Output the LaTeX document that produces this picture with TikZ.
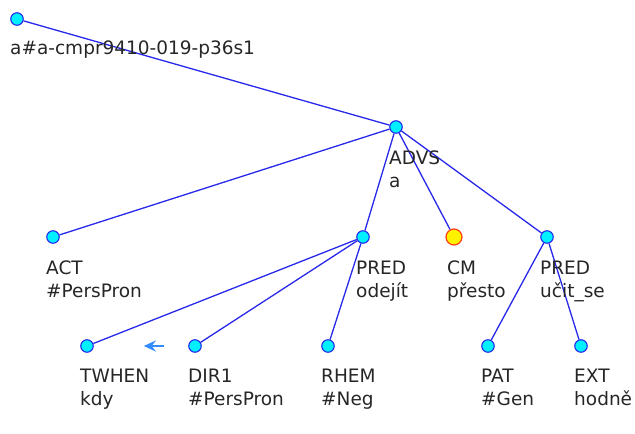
\documentclass[tikz,border=0pt]{standalone}
\usepackage{fontspec}
\setmainfont{DejaVu Sans}
\usetikzlibrary{arrows.meta}
\definecolor{edgeblue}{RGB}{40,40,235}
\definecolor{nodecyan}{RGB}{0,240,255}
\definecolor{corefblue}{RGB}{50,140,255}
\definecolor{cmred}{RGB}{255,60,20}
\begin{document}
\begin{tikzpicture}[x=1pt,y=-1pt,
    tnode/.style={circle,draw=edgeblue,fill=nodecyan,line width=1.1pt,minimum size=12.5pt,inner sep=0pt},
    cmnode/.style={circle,draw=cmred,fill=yellow,line width=1.2pt,minimum size=16pt,inner sep=0pt},
    edge/.style={edgeblue,line width=1.3pt},
    lbl/.style={anchor=base west,align=left,inner sep=0pt,font=\fontsize{18.5}{22.5}\selectfont,text=black!85},
    coref/.style={corefblue,line width=2.2pt,-{Stealth[length=12pt,width=11pt,inset=4pt]}}]
    \useasboundingbox (0,0) rectangle (635,434);
    % the tree nodes
    \node[tnode] (root) at (17,19) {};
    \node[tnode] (advs) at (396,127) {};
    \node[tnode] (act) at (53,237) {};
    \node[tnode] (pred1) at (363,237) {};
    \node[cmnode] (cm) at (454,237) {};
    \node[tnode] (pred2) at (547,237) {};
    \node[tnode] (twhen) at (87,346) {};
    \node[tnode] (dir1) at (195,346) {};
    \node[tnode] (rhem) at (328,346) {};
    \node[tnode] (pat) at (488,346) {};
    \node[tnode] (ext) at (581,346) {};
    % edges
    \draw[edge] (root)--(advs);
    \draw[edge] (advs)--(act);
    \draw[edge] (advs)--(pred1);
    \draw[edge] (advs)--(cm);
    \draw[edge] (advs)--(pred2);
    \draw[edge] (pred1)--(twhen);
    \draw[edge] (pred1)--(dir1);
    \draw[edge] (pred1)--(rhem);
    \draw[edge] (pred2)--(pat);
    \draw[edge] (pred2)--(ext);
    \draw[coref,shorten <=24pt,shorten >=50pt] (dir1)--(twhen);
    % labels
    \node[lbl] (rootl) at (10,54) {a\#a-cmpr9410-019-p36s1};
    \node[lbl] (advsl) at (389,187) {ADVS\\a};
    \node[lbl] (actl) at (46,297) {ACT\\\#PersPron};
    \node[lbl] (pred1l) at (356,297) {PRED\\odejít};
    \node[lbl] (cml) at (447,297) {CM\\přesto};
    \node[lbl] (pred2l) at (540,297) {PRED\\učit\_se};
    \node[lbl] (twhenl) at (80,405) {TWHEN\\kdy};
    \node[lbl] (dir1l) at (188,405) {DIR1\\\#PersPron};
    \node[lbl] (rheml) at (321,405) {RHEM\\\#Neg};
    \node[lbl] (patl) at (481,405) {PAT\\\#Gen};
    \node[lbl] (extl) at (574,405) {EXT\\hodně};
\end{tikzpicture}
\end{document}
